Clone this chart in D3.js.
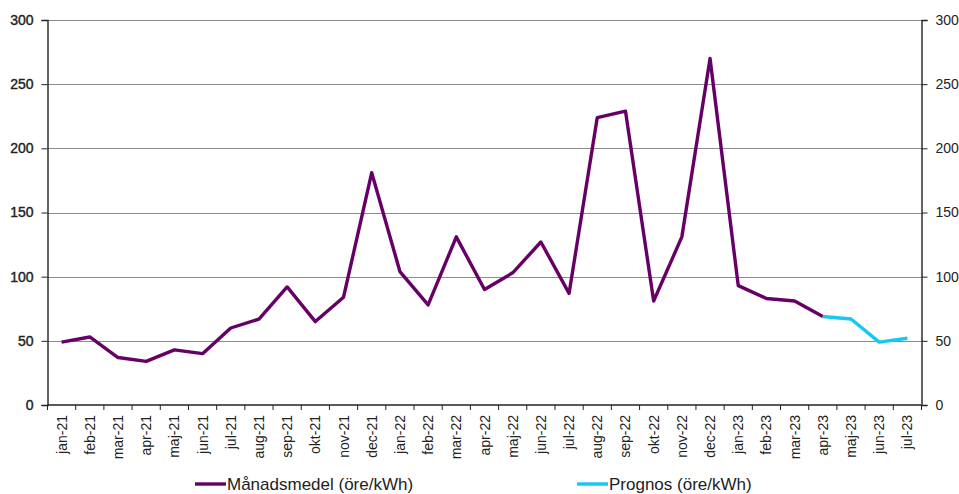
<!DOCTYPE html>
<html lang="en">
<head>
<meta charset="utf-8">
<title>Månadsmedel</title>
<script src="https://d3js.org/d3.v7.min.js"></script>
<style>
  body { margin: 0; background: #fff; }
  text { font-family: "Liberation Sans", Arial, sans-serif; }
</style>
</head>
<body>
<div id="vis"></div>
<script>
// months on the x axis
const months = ["jan-21","feb-21","mar-21","apr-21","maj-21","jun-21","jul-21","aug-21","sep-21","okt-21","nov-21","dec-21",
  "jan-22","feb-22","mar-22","apr-22","maj-22","jun-22","jul-22","aug-22","sep-22","okt-22","nov-22","dec-22",
  "jan-23","feb-23","mar-23","apr-23","maj-23","jun-23","jul-23"];

// monthly average, jan-21 .. apr-23
const actual = [49, 53, 37, 34, 43, 40, 60, 67, 92, 65, 84, 181,
  104, 78, 131, 90, 103, 127, 87, 224, 229, 81, 131, 270,
  93, 83, 81, 69];

// forecast, apr-23 .. jul-23
const forecastMonths = ["apr-23","maj-23","jun-23","jul-23"];
const forecast = [69, 67, 49, 52];

const yTicks = [0, 50, 100, 150, 200, 250, 300];

const W = 959, H = 494;
const plotL = 47.5, plotR = 921.5, plotT = 20, plotB = 405;

const svg = d3.select("#vis").append("svg")
  .attr("width", W).attr("height", H);

const x = d3.scaleBand().domain(months).range([plotL, plotR]);
const y = d3.scaleLinear().domain([0, 300]).range([plotB, plotT]);
const cx = m => x(m) + x.bandwidth() / 2;

// gridlines
svg.append("g").selectAll("line")
  .data(yTicks.filter(d => d > 0))
  .join("line")
  .attr("x1", plotL).attr("x2", plotR)
  .attr("y1", d => Math.round(y(d)) + 0.5).attr("y2", d => Math.round(y(d)) + 0.5)
  .attr("stroke", "#8c8c8c").attr("stroke-width", 1.2);

// left axis
const yl = svg.append("g")
  .attr("transform", `translate(${plotL},0)`)
  .call(d3.axisLeft(y).tickValues(yTicks).tickSize(6).tickPadding(8));
// right axis
const yr = svg.append("g")
  .attr("transform", `translate(${plotR},0)`)
  .call(d3.axisRight(y).tickValues(yTicks).tickSize(6).tickPadding(8));

[yl, yr].forEach(g => {
  g.select(".domain").attr("stroke", "#222").attr("stroke-width", 1.4);
  g.selectAll(".tick line").attr("stroke", "#222");
  g.selectAll(".tick text").attr("fill", "#222").style("font-size", "14px");
});
// left labels look a bit heavier
yl.selectAll(".tick text").attr("stroke", "#222").attr("stroke-width", 0.4);

// x axis: ticks between categories
const xg = svg.append("g").attr("transform", `translate(0,${plotB})`);
xg.append("line").attr("x1", plotL).attr("x2", plotR)
  .attr("stroke", "#222").attr("stroke-width", 1.4);
xg.selectAll(".tk")
  .data(months.concat(["end"]))
  .join("line")
  .attr("class", "tk")
  .attr("x1", (d, i) => plotL + i * x.bandwidth())
  .attr("x2", (d, i) => plotL + i * x.bandwidth())
  .attr("y1", 0).attr("y2", 5)
  .attr("stroke", "#222");
xg.selectAll("text")
  .data(months)
  .join("text")
  .attr("transform", d => `translate(${cx(d) + 5},10) rotate(-90)`)
  .attr("text-anchor", "end")
  .attr("fill", "#222")
  .style("font-size", "14px")
  .text(d => d);

const line = d3.line().x(d => cx(d[0])).y(d => y(d[1]));

svg.append("path")
  .datum(actual.map((v, i) => [months[i], v]))
  .attr("d", line)
  .attr("fill", "none")
  .attr("stroke", "#660066")
  .attr("stroke-width", 3.4)
  .attr("stroke-linejoin", "round");

svg.append("path")
  .datum(forecast.map((v, i) => [forecastMonths[i], v]))
  .attr("d", line)
  .attr("fill", "none")
  .attr("stroke", "#16c8f2")
  .attr("stroke-width", 3.4)
  .attr("stroke-linejoin", "round");

// legend
const legend = [
  { label: "Månadsmedel (öre/kWh)", color: "#660066", x: 195 },
  { label: "Prognos (öre/kWh)", color: "#16c8f2", x: 577 }
];
const lg = svg.append("g").selectAll("g").data(legend).join("g")
  .attr("transform", d => `translate(${d.x},484)`);
lg.append("line").attr("x1", 0).attr("x2", 31)
  .attr("stroke", d => d.color).attr("stroke-width", 3.4);
lg.append("text").attr("x", 32).attr("y", 5.5)
  .attr("fill", "#222")
  .style("font-size", "17px")
  .text(d => d.label);
</script>
</body>
</html>
